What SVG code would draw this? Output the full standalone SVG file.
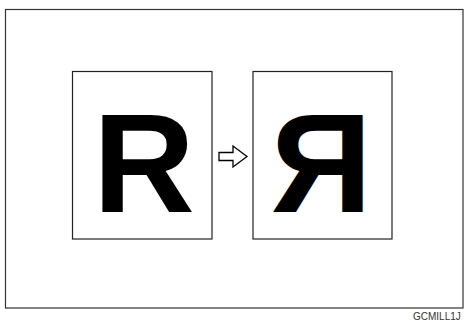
<svg xmlns="http://www.w3.org/2000/svg" width="464" height="321" viewBox="0 0 464 321">
<style>
.box{fill:#fff;stroke:#222;stroke-width:1.2}
.big{font-family:"Liberation Sans",Arial,sans-serif;font-weight:bold;font-size:141px;fill:#000}
.lbl{font-family:"Liberation Sans",Arial,sans-serif;font-size:10px;fill:#333}
</style>
<rect x="0" y="0" width="464" height="321" fill="#fff"/>
<rect id="frame" x="5.5" y="9.5" width="457.5" height="298.5" fill="none" stroke="#333" stroke-width="1.2"/>
<g id="original">
<rect class="box" x="72.5" y="71.5" width="139.5" height="167.5"/>
<text class="big" x="144" y="212" text-anchor="middle">R</text>
</g>
<g id="mirrored">
<rect class="box" x="253" y="71.5" width="139" height="167.5"/>
<text class="big" x="-321" y="212" text-anchor="middle" transform="scale(-1,1)">R</text>
</g>
<g id="connectors">
<path d="M219,152.5 H233 V146 L247,156.5 L233,167 V160.5 H219 Z" fill="#fff" stroke="#000" stroke-width="1.3" stroke-linejoin="miter"/>
</g>
<text class="lbl" x="413" y="319.5">GCMILL1J</text>
</svg>
